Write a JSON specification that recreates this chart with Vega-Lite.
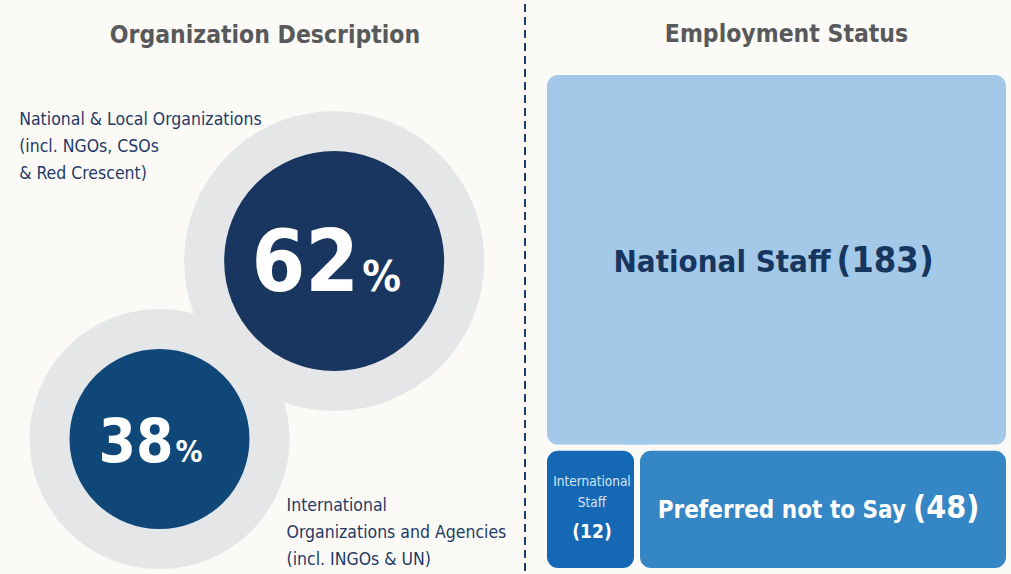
{
  "$schema": "https://vega.github.io/schema/vega-lite/v6.json",
  "background": "#FBFAF6",
  "padding": {"left": 0, "right": 0, "top": 3, "bottom": 0},
  "spacing": 20,
  "bounds": "flush",
  "resolve": {"scale": {"color": "independent", "size": "independent"}},
  "config": {
    "view": {"stroke": null},
    "font": "DejaVu Sans Condensed, sans-serif",
    "title": {"fontSize": 24.5, "fontWeight": "bold", "color": "#58595B", "anchor": "middle", "frame": "group", "font": "DejaVu Sans Condensed, sans-serif"}
  },
  "hconcat": [
    {
      "title": {"text": "Organization Description", "dx": 3, "offset": -45},
      "width": 524,
      "height": 499,
      "data": {"values": [
        {"org": "National & Local Organizations", "label": ["National & Local Organizations", "(incl. NGOs, CSOs", "& Red Crescent)"], "pct": 62},
        {"org": "International Organizations and Agencies", "label": ["International", "Organizations and Agencies", "(incl. INGOs & UN)"], "pct": 38}
      ]},
      "encoding": {
        "x": {"field": "org", "type": "nominal", "axis": null, "scale": {"type": "point", "domain": ["International Organizations and Agencies", "National & Local Organizations"], "padding": 1.0689, "align": 0.4566}},
        "y": {"field": "org", "type": "nominal", "axis": null, "scale": {"type": "point", "domain": ["National & Local Organizations", "International Organizations and Agencies"], "padding": 0.9017, "align": 0.5888}}
      },
      "layer": [
        {
          "mark": {"type": "circle", "opacity": 1, "stroke": "#E5E6E8", "strokeWidth": 40, "strokeJoin": "round"},
          "encoding": {
            "size": {"field": "pct", "type": "quantitative", "legend": null, "scale": {"domain": [38, 62], "range": [48400, 67600]}},
            "color": {"field": "org", "type": "nominal", "legend": null, "scale": {"domain": ["International Organizations and Agencies", "National & Local Organizations"], "range": ["#0E4778", "#18365F"]}}
          }
        },
        {
          "transform": [{"filter": "datum.pct == 62"}],
          "mark": {"type": "text", "align": "right", "baseline": "alphabetic", "dx": 25, "dy": 30, "fontSize": 86, "fontWeight": "bold", "color": "#FFFFFF"},
          "encoding": {"text": {"field": "pct", "type": "quantitative"}}
        },
        {
          "transform": [{"filter": "datum.pct == 62"}],
          "mark": {"type": "text", "align": "left", "baseline": "alphabetic", "dx": 28, "dy": 30, "fontSize": 43, "fontWeight": "bold", "color": "#FFFFFF", "text": "%"}
        },
        {
          "transform": [{"filter": "datum.pct == 38"}],
          "mark": {"type": "text", "align": "right", "baseline": "alphabetic", "dx": 14, "dy": 23, "fontSize": 60, "fontWeight": "bold", "color": "#FFFFFF"},
          "encoding": {"text": {"field": "pct", "type": "quantitative"}}
        },
        {
          "transform": [{"filter": "datum.pct == 38"}],
          "mark": {"type": "text", "align": "left", "baseline": "alphabetic", "dx": 16, "dy": 23, "fontSize": 30, "fontWeight": "bold", "color": "#FFFFFF", "text": "%"}
        },
        {
          "transform": [{"filter": "datum.pct == 62"}],
          "mark": {"type": "text", "align": "left", "baseline": "alphabetic", "dx": -315, "dy": -136, "fontSize": 17.5, "lineHeight": 27, "color": "#1F3A66"},
          "encoding": {"text": {"field": "label", "type": "nominal"}}
        },
        {
          "transform": [{"filter": "datum.pct == 38"}],
          "mark": {"type": "text", "align": "left", "baseline": "alphabetic", "dx": 127, "dy": 72, "fontSize": 17.5, "lineHeight": 27, "color": "#1F3A66"},
          "encoding": {"text": {"field": "label", "type": "nominal"}}
        },
        {
          "data": {"values": [{"part": "divider"}]},
          "mark": {"type": "rule", "stroke": "#1F3D6B", "strokeWidth": 2, "strokeDash": [8, 5], "xOffset": 1, "x2Offset": 1, "yOffset": -68, "y2Offset": 2},
          "encoding": {"x": {"value": "width"}, "y": {"value": 0}, "y2": {"value": "height"}}
        }
      ]
    },
    {
      "title": {"text": "Employment Status", "dx": 10, "offset": 22},
      "width": 465,
      "height": 499,
      "data": {"values": [
        {"status": "National Staff", "count": 183, "row": 1},
        {"status": "International Staff", "count": 12, "row": 2},
        {"status": "Preferred not to Say", "count": 48, "row": 2}
      ]},
      "transform": [
        {"stack": "count", "groupby": [], "sort": [{"field": "row", "order": "ascending"}, {"field": "count", "order": "ascending"}], "as": ["s0", "s1"]},
        {"joinaggregate": [{"op": "min", "field": "s0", "as": "y0"}, {"op": "max", "field": "s1", "as": "y1"}], "groupby": ["row"]},
        {"stack": "count", "groupby": ["row"], "sort": [{"field": "count", "order": "ascending"}], "offset": "normalize", "as": ["x0", "x1"]}
      ],
      "layer": [
        {
          "mark": {"type": "rect", "cornerRadius": 14, "stroke": "#FBFAF6", "strokeWidth": 6, "strokeJoin": "round", "opacity": 1},
          "encoding": {
            "x": {"field": "x0", "type": "quantitative", "axis": null, "scale": {"domain": [0, 1], "nice": false}},
            "x2": {"field": "x1"},
            "y": {"field": "y0", "type": "quantitative", "axis": null, "scale": {"domain": [0, 243], "nice": false, "reverse": true}},
            "y2": {"field": "y1"},
            "color": {"field": "status", "type": "nominal", "legend": null, "scale": {"domain": ["National Staff", "International Staff", "Preferred not to Say"], "range": ["#A4C8E8", "#1569B4", "#3586C5"]}}
          }
        },
        {
          "transform": [
            {"fold": ["x0", "x1"], "as": ["kx", "vx"]},
            {"aggregate": [{"op": "mean", "field": "vx", "as": "xm"}, {"op": "max", "field": "y0", "as": "ya"}, {"op": "max", "field": "y1", "as": "yb"}, {"op": "max", "field": "count", "as": "n"}], "groupby": ["status"]},
            {"fold": ["ya", "yb"], "as": ["ky", "vy"]},
            {"aggregate": [{"op": "mean", "field": "vy", "as": "ym"}, {"op": "max", "field": "xm", "as": "xc"}, {"op": "max", "field": "n", "as": "n"}], "groupby": ["status"]}
          ],
          "encoding": {
            "x": {"field": "xc", "type": "quantitative"},
            "y": {"field": "ym", "type": "quantitative"}
          },
          "layer": [
            {
              "transform": [{"filter": "datum.status == 'National Staff'"}],
              "mark": {"type": "text", "align": "right", "baseline": "alphabetic", "dx": 54, "dy": 12, "fontSize": 31, "fontWeight": "bold", "color": "#17365F"},
              "encoding": {"text": {"field": "status", "type": "nominal"}}
            },
            {
              "transform": [{"filter": "datum.status == 'National Staff'"}],
              "mark": {"type": "text", "align": "left", "baseline": "alphabetic", "dx": 60, "dy": 12, "fontSize": 36, "fontWeight": "bold", "color": "#17365F", "text": {"expr": "'(' + datum.n + ')'"}}
            },
            {
              "transform": [{"filter": "datum.status == 'Preferred not to Say'"}],
              "mark": {"type": "text", "align": "right", "baseline": "alphabetic", "dx": 83, "dy": 9, "fontSize": 24, "fontWeight": "bold", "color": "#FFFFFF"},
              "encoding": {"text": {"field": "status", "type": "nominal"}}
            },
            {
              "transform": [{"filter": "datum.status == 'Preferred not to Say'"}],
              "mark": {"type": "text", "align": "left", "baseline": "alphabetic", "dx": 90, "dy": 9, "fontSize": 32, "fontWeight": "bold", "color": "#FFFFFF", "text": {"expr": "'(' + datum.n + ')'"}}
            },
            {
              "transform": [{"filter": "datum.status == 'International Staff'"}],
              "mark": {"type": "text", "align": "center", "baseline": "alphabetic", "dx": 1.5, "dy": -23, "fontSize": 13.5, "lineHeight": 21, "color": "#D6E6F5", "text": {"expr": "split(datum.status, ' ')"}}
            },
            {
              "transform": [{"filter": "datum.status == 'International Staff'"}],
              "mark": {"type": "text", "align": "center", "baseline": "alphabetic", "dx": 1.5, "dy": 28.5, "fontSize": 19, "fontWeight": "bold", "color": "#FFFFFF", "text": {"expr": "'(' + datum.n + ')'"}}
            }
          ]
        }
      ]
    }
  ]
}
